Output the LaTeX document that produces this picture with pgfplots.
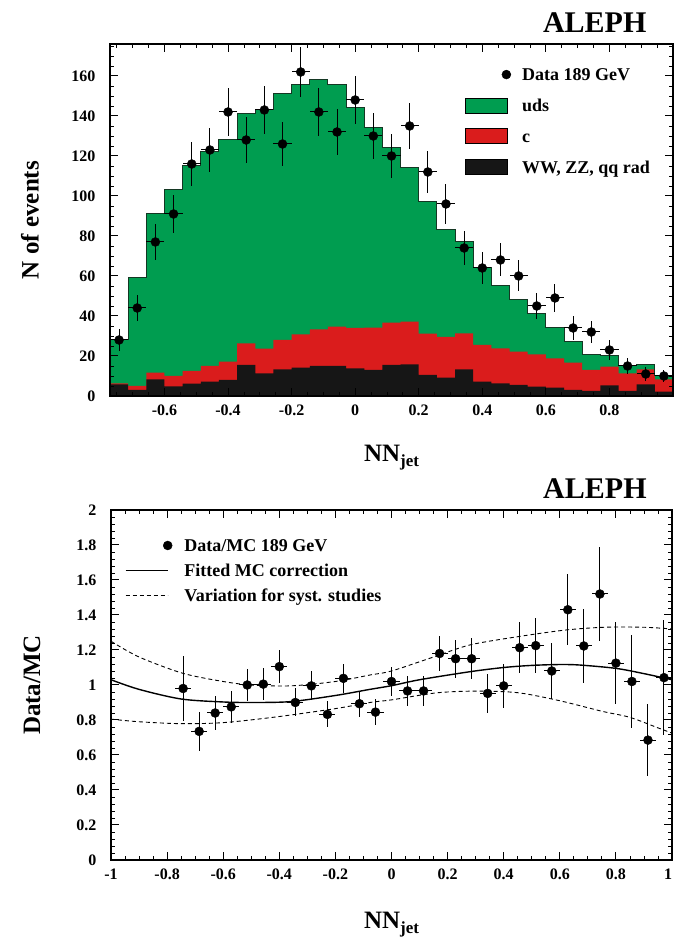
\documentclass[border=0pt]{standalone}
\usepackage{fontspec}
\setmainfont{Liberation Serif}
\usepackage{pgfplots}
\usepackage{pgfplotstable}
\pgfplotsset{compat=1.18}

\definecolor{udsgreen}{RGB}{0,157,80}
\definecolor{cred}{RGB}{218,28,28}
\definecolor{bkgblack}{RGB}{22,22,22}
\definecolor{outline}{RGB}{20,55,35}

\pgfplotstableread{
x tot c bkg
-0.7714 28 6.3 5.8
-0.7143 59 5.0 3.0
-0.6571 91 11.7 8.3
-0.6000 103 10.0 4.8
-0.5429 115 12.5 6.2
-0.4857 122 15.0 7.2
-0.4286 128 17.2 8.0
-0.3714 141 26.3 15.5
-0.3143 143 23.7 11.3
-0.2571 151 28.0 13.3
-0.2000 155.5 30.8 14.2
-0.1429 158 33.3 15.0
-0.0857 155.5 34.7 15.0
-0.0286 144 34.0 13.8
0.0286 134 34.2 13.0
0.0857 124 36.7 15.5
0.1429 114 37.2 15.8
0.2000 97 31.2 10.5
0.2571 83 29.5 9.2
0.3143 77 31.3 13.3
0.3714 64 25.5 7.2
0.4286 55 23.8 6.3
0.4857 48 22.2 5.5
0.5429 41 20.8 4.7
0.6000 34 18.8 4.2
0.6571 27 16.7 3.0
0.7143 20.5 13.0 2.5
0.7714 20 14.7 5.3
0.8286 15 11.3 2.5
0.8857 15.5 13.3 5.8
0.9429 10 8.3 2.2
1.0000 10 8.3 2.2
}\mctab

\pgfplotstableread{
x y ex ey
-0.7429 28 0.0286 5.29
-0.6857 44 0.0286 6.63
-0.6286 77 0.0286 8.77
-0.5714 91 0.0286 9.54
-0.5143 116 0.0286 10.77
-0.4571 123 0.0286 11.09
-0.4000 142 0.0286 11.92
-0.3429 128 0.0286 11.31
-0.2857 143 0.0286 11.96
-0.2286 126 0.0286 11.22
-0.1714 162 0.0286 12.73
-0.1143 142 0.0286 11.92
-0.0571 132 0.0286 11.49
0.0000 148 0.0286 12.17
0.0571 130 0.0286 11.40
0.1143 120 0.0286 10.95
0.1714 135 0.0286 11.62
0.2286 112 0.0286 10.58
0.2857 96 0.0286 9.80
0.3429 74 0.0286 8.60
0.4000 64 0.0286 8.00
0.4571 68 0.0286 8.25
0.5143 60 0.0286 7.75
0.5714 45 0.0286 6.71
0.6286 49 0.0286 7.00
0.6857 34 0.0286 5.83
0.7429 32 0.0286 5.66
0.8000 23 0.0286 4.80
0.8571 15 0.0286 3.87
0.9143 11 0.0286 3.32
0.9714 10 0.0286 3.16
}\datatop

\pgfplotstableread{
x y ex ey
-0.7429 0.980 0.0286 0.185
-0.6857 0.735 0.0286 0.111
-0.6286 0.840 0.0286 0.096
-0.5714 0.875 0.0286 0.092
-0.5143 1.000 0.0286 0.093
-0.4571 1.005 0.0286 0.091
-0.4000 1.105 0.0286 0.093
-0.3429 0.900 0.0286 0.080
-0.2857 0.995 0.0286 0.083
-0.2286 0.832 0.0286 0.074
-0.1714 1.038 0.0286 0.082
-0.1143 0.893 0.0286 0.075
-0.0571 0.845 0.0286 0.074
0.0000 1.020 0.0286 0.084
0.0571 0.966 0.0286 0.085
0.1143 0.966 0.0286 0.088
0.1714 1.180 0.0286 0.102
0.2286 1.150 0.0286 0.109
0.2857 1.150 0.0286 0.117
0.3429 0.952 0.0286 0.111
0.4000 0.995 0.0286 0.124
0.4571 1.213 0.0286 0.147
0.5143 1.225 0.0286 0.158
0.5714 1.080 0.0286 0.161
0.6286 1.430 0.0286 0.204
0.6857 1.223 0.0286 0.210
0.7429 1.520 0.0286 0.269
0.8000 1.125 0.0286 0.235
0.8571 1.020 0.0286 0.263
0.9143 0.685 0.0286 0.207
0.9714 1.042 0.0286 0.330
}\ratio

\pgfplotsset{
  myaxis/.style={
    scale only axis,
    clip mode=individual,
    tick align=inside,
    xtick pos=both, ytick pos=both,
    major tick length=8pt, minor tick length=4pt,
    axis line style={line width=1.4pt},
    every tick/.style={black, line width=1pt},
    every minor tick/.style={black, line width=0.8pt},
    /pgf/number format/assume math mode=true,
    tick label style={font=\fontsize{16}{18}\selectfont\bfseries},
    yticklabel style={xshift=-11pt},
    xticklabel style={yshift=-5pt},
    label style={font=\fontsize{25}{29}\selectfont\bfseries},
    legend style={draw=none, fill=none, inner sep=0pt, outer sep=0pt,
      font=\fontsize{18}{20}\selectfont\bfseries,
      nodes={inner sep=0pt, text height=13pt, text depth=4pt}},
    legend cell align=left,
  }
}

\begin{document}
\begin{tikzpicture}[x=1pt,y=1pt]
\path[use as bounding box] (0,0) rectangle (674,939);

% ---------------- top panel ----------------
\begin{axis}[myaxis,
  at={(110pt,543pt)}, anchor=south west,
  width=563pt, height=352pt,
  xmin=-0.7714, xmax=1, ymin=0, ymax=176,
  xtick={-0.6,-0.4,-0.2,0,0.2,0.4,0.6,0.8},
  minor xtick={-0.75,-0.7,-0.65,-0.55,-0.5,-0.45,-0.35,-0.3,-0.25,-0.15,-0.1,-0.05,0.05,0.1,0.15,0.25,0.3,0.35,0.45,0.5,0.55,0.65,0.7,0.75,0.85,0.9,0.95},
  ytick={0,20,40,60,80,100,120,140,160},
  minor ytick={5,10,15,25,30,35,45,50,55,65,70,75,85,90,95,105,110,115,125,130,135,145,150,155,165,170,175},
  xlabel={NN\raisebox{-0.45ex}{\fontsize{17}{17}\selectfont jet}},
  xlabel style={at={(axis description cs:0.5,-0.175)}, anchor=center},
  ylabel={N of events},
  ylabel style={at={(axis description cs:-0.142,0.5)}, anchor=center},
  legend style={at={(0.6306,0.933)}, anchor=north west, row sep=13pt},
  axis on top,
]
\addlegendimage{legend image code/.code={\fill[black] (41pt,1.5pt) circle (4.5pt); \path[draw=none,fill=none] (0pt,0pt) -- (42pt,0pt);}}
\addlegendentry{\hspace{11pt}Data 189 GeV}
\addlegendimage{legend image code/.code={\draw[fill=udsgreen, draw=black, line width=0.7pt] (0pt,-6pt) rectangle (42pt,9pt);}}
\addlegendentry{\hspace{11pt}uds}
\addlegendimage{legend image code/.code={\draw[fill=cred, draw=black, line width=0.7pt] (0pt,-6pt) rectangle (42pt,9pt);}}
\addlegendentry{\hspace{11pt}c}
\addlegendimage{legend image code/.code={\draw[fill=bkgblack, draw=black, line width=0.7pt] (0pt,-6pt) rectangle (42pt,9pt);}}
\addlegendentry{\hspace{11pt}WW, ZZ, qq rad}

\addplot[forget plot, const plot, fill=udsgreen, draw=none] table[x=x,y=tot]{\mctab} \closedcycle;
\addplot[forget plot, const plot, fill=cred, draw=none] table[x=x,y=c]{\mctab} \closedcycle;
\addplot[forget plot, const plot, fill=bkgblack, draw=none] table[x=x,y=bkg]{\mctab} \closedcycle;
\addplot[forget plot, const plot, draw=outline, line width=1pt] table[x=x,y=tot]{\mctab};
\addplot[forget plot, black, only marks, mark=*, mark size=4.5pt,
  error bars/.cd, x dir=both, x explicit, y dir=both, y explicit,
  error bar style={line width=1pt, black}, error mark=none]
  table[x=x,y=y,x error=ex,y error=ey]{\datatop};
\node[anchor=base east, font=\fontsize{30}{30}\selectfont\bfseries] at (axis description cs:0.959,1.034) {ALEPH};
\end{axis}

% ---------------- bottom panel ----------------
\begin{axis}[myaxis,
  at={(111pt,79pt)}, anchor=south west,
  width=561pt, height=350pt,
  xmin=-1, xmax=1, ymin=0, ymax=2,
  xtick={-1,-0.8,-0.6,-0.4,-0.2,0,0.2,0.4,0.6,0.8,1},
  xticklabels={-1,-0.8,-0.6,-0.4,-0.2,0,0.2,0.4,0.6,0.8,\makebox[0pt][r]{1}},
  minor xtick={-0.95,-0.9,-0.85,-0.75,-0.7,-0.65,-0.55,-0.5,-0.45,-0.35,-0.3,-0.25,-0.15,-0.1,-0.05,0.05,0.1,0.15,0.25,0.3,0.35,0.45,0.5,0.55,0.65,0.7,0.75,0.85,0.9,0.95},
  ytick={0,0.2,0.4,0.6,0.8,1,1.2,1.4,1.6,1.8,2},
  minor ytick={0.04,0.08,0.12,0.16,0.24,0.28,0.32,0.36,0.44,0.48,0.52,0.56,0.64,0.68,0.72,0.76,0.84,0.88,0.92,0.96,1.04,1.08,1.12,1.16,1.24,1.28,1.32,1.36,1.44,1.48,1.52,1.56,1.64,1.68,1.72,1.76,1.84,1.88,1.92,1.96},
  xlabel={NN\raisebox{-0.45ex}{\fontsize{17}{17}\selectfont jet}},
  xlabel style={at={(axis description cs:0.5,-0.185)}, anchor=center},
  ylabel={Data/MC},
  ylabel style={at={(axis description cs:-0.141,0.5)}, anchor=center},
  legend style={at={(0.025,0.9186)}, anchor=north west, row sep=8pt},
]
\addlegendimage{legend image code/.code={\fill[black] (42pt,1.5pt) circle (4.5pt); \path[draw=none,fill=none] (0pt,0pt) -- (42pt,0pt);}}
\addlegendentry{\hspace{12pt}Data/MC 189 GeV}
\addlegendimage{legend image code/.code={\draw[black, line width=1.4pt] (0pt,1.5pt) -- (42pt,1.5pt);}}
\addlegendentry{\hspace{12pt}Fitted MC correction}
\addlegendimage{legend image code/.code={\draw[black, line width=0.9pt, dash pattern=on 4pt off 3pt] (0pt,1.5pt) -- (42pt,1.5pt);}}
\addlegendentry{\hspace{12pt}Variation for syst. studies}

\addplot[forget plot, smooth, black, line width=1.4pt] coordinates {
(-1,1.03) (-0.9,0.975) (-0.75,0.92) (-0.6,0.903) (-0.5,0.9) (-0.36,0.905) (-0.2,0.94) (-0.077,0.975) (0,0.996) (0.1,1.03) (0.28,1.076) (0.4,1.1) (0.5,1.112) (0.6,1.117) (0.672,1.114) (0.8,1.095) (0.9,1.065) (1.0,1.03)};
\addplot[forget plot, smooth, black, line width=0.9pt, dash pattern=on 4pt off 3pt] coordinates {
(-1,1.25) (-0.9,1.16) (-0.744,1.067) (-0.6,1.02) (-0.5,1.0) (-0.36,0.995) (-0.2,1.02) (-0.077,1.057) (0,1.08) (0.15,1.16) (0.28,1.229) (0.45,1.276) (0.62,1.314) (0.76,1.33) (0.9,1.33) (1.0,1.32)};
\addplot[forget plot, smooth, black, line width=0.9pt, dash pattern=on 4pt off 3pt] coordinates {
(-1,0.805) (-0.9,0.79) (-0.75,0.779) (-0.6,0.785) (-0.414,0.817) (-0.2,0.865) (-0.077,0.9) (0,0.915) (0.16,0.955) (0.3,0.965) (0.45,0.956) (0.6,0.91) (0.75,0.85) (0.85,0.815) (0.95,0.755) (1.0,0.725)};
\addplot[forget plot, black, only marks, mark=*, mark size=4.5pt,
  error bars/.cd, x dir=both, x explicit, y dir=both, y explicit,
  error bar style={line width=1pt, black}, error mark=none]
  table[x=x,y=y,x error=ex,y error=ey]{\ratio};
\node[anchor=base east, font=\fontsize{30}{30}\selectfont\bfseries] at (axis description cs:0.961,1.034) {ALEPH};
\end{axis}
\end{tikzpicture}
\end{document}
